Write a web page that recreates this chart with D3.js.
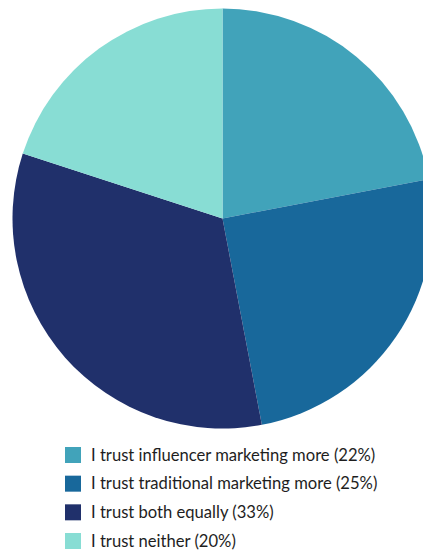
<!DOCTYPE html>
<html>
<head>
<meta charset="utf-8">
<script src="https://cdn.jsdelivr.net/npm/d3@7"></script>
<style>
  html, body { margin: 0; padding: 0; background: #ffffff; }
  svg { display: block; }
</style>
</head>
<body>
<script>
// Survey answers: trust in influencer vs. traditional marketing
const categories = [
  "I trust influencer marketing more",
  "I trust traditional marketing more",
  "I trust both equally",
  "I trust neither"
];
const shares = [22, 25, 33, 20];
const colors = ["#41a3ba", "#18689b", "#20306b", "#88ddd4"];

const width = 423, height = 553;
const cx = 222.5, cy = 218.5, radius = 210;

const svg = d3.select("body").append("svg")
  .attr("width", width)
  .attr("height", height);

const data = categories.map((c, i) => ({ name: c, value: shares[i], color: colors[i] }));

const pie = d3.pie().value(d => d.value).sort(null);
const arc = d3.arc().innerRadius(0).outerRadius(radius);

svg.append("g")
  .attr("transform", `translate(${cx},${cy})`)
  .selectAll("path")
  .data(pie(data))
  .join("path")
  .attr("d", arc)
  .attr("fill", d => d.data.color);

// Legend below the pie
const rowY = d3.scalePoint().domain(categories).range([447, 533]);

const legend = svg.append("g").selectAll("g")
  .data(data)
  .join("g")
  .attr("transform", d => `translate(65,${rowY(d.name)})`);

legend.append("rect")
  .attr("width", 16)
  .attr("height", 16)
  .attr("fill", d => d.color);

legend.append("text")
  .attr("x", 26)
  .attr("y", 13.5)
  .attr("font-family", "Lato, 'Open Sans', sans-serif")
  .attr("font-size", 16.6)
  .attr("fill", "#1e1e1e")
  .text(d => `${d.name} (${d.value}%)`);
</script>
</body>
</html>
